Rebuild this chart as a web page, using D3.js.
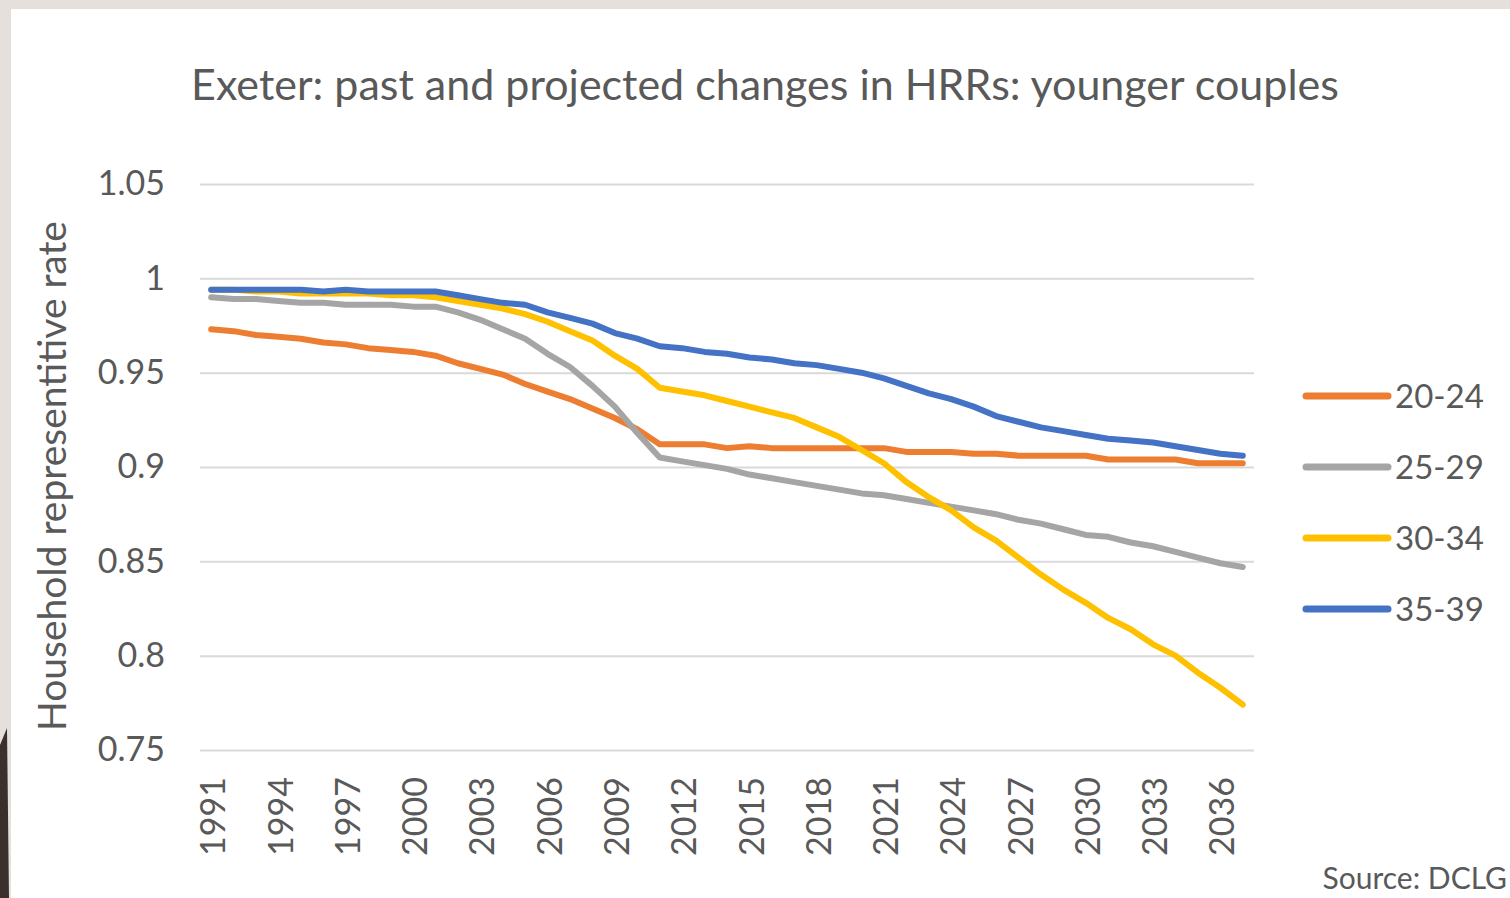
<!DOCTYPE html>
<html>
<head>
    <meta charset='utf-8'>
    <title>Exeter HRRs: younger couples</title>
    <script src="https://cdn.jsdelivr.net/npm/d3@7"></script>
    <style>
        body { margin: 0; background: #e6e0dd; }
        svg { display: block; }
        text { font-family: Lato, "Open Sans", sans-serif; fill: #595959; }
        .grid line { stroke: #d9d9d9; stroke-width: 2; }
        .series { fill: none; stroke-width: 6; stroke-linejoin: round; stroke-linecap: round; }
    </style>
</head>
<body>
<svg width="1510" height="898"></svg>

<script>
    const YEARS = d3.range(1991, 2038);

    const SERIES_NAMES = ['20-24', '25-29', '30-34', '35-39'];
    const COLORS = ['#ED7D31', '#A5A5A5', '#FFC000', '#4472C4'];

    const AGE_20_24 = [
        0.973, 0.972, 0.970, 0.969, 0.968, 0.966, 0.965, 0.963, 0.962, 0.961,
        0.959, 0.955, 0.952, 0.949, 0.944, 0.940, 0.936, 0.931, 0.926, 0.920,
        0.912, 0.912, 0.912, 0.910, 0.911, 0.910, 0.910, 0.910, 0.910, 0.910,
        0.910, 0.908, 0.908, 0.908, 0.907, 0.907, 0.906, 0.906, 0.906, 0.906,
        0.904, 0.904, 0.904, 0.904, 0.902, 0.902, 0.902
    ];
    const AGE_25_29 = [
        0.990, 0.989, 0.989, 0.988, 0.987, 0.987, 0.986, 0.986, 0.986, 0.985,
        0.985, 0.982, 0.978, 0.973, 0.968, 0.960, 0.953, 0.943, 0.932, 0.918,
        0.905, 0.903, 0.901, 0.899, 0.896, 0.894, 0.892, 0.890, 0.888, 0.886,
        0.885, 0.883, 0.881, 0.879, 0.877, 0.875, 0.872, 0.870, 0.867, 0.864,
        0.863, 0.860, 0.858, 0.855, 0.852, 0.849, 0.847
    ];
    const AGE_30_34 = [
        0.994, 0.994, 0.993, 0.993, 0.992, 0.992, 0.992, 0.992, 0.991, 0.991,
        0.990, 0.988, 0.986, 0.984, 0.981, 0.977, 0.972, 0.967, 0.959, 0.952,
        0.942, 0.940, 0.938, 0.935, 0.932, 0.929, 0.926, 0.921, 0.916, 0.909,
        0.902, 0.892, 0.884, 0.877, 0.868, 0.861, 0.852, 0.843, 0.835, 0.828,
        0.820, 0.814, 0.806, 0.800, 0.791, 0.783, 0.774
    ];
    const AGE_35_39 = [
        0.994, 0.994, 0.994, 0.994, 0.994, 0.993, 0.994, 0.993, 0.993, 0.993,
        0.993, 0.991, 0.989, 0.987, 0.986, 0.982, 0.979, 0.976, 0.971, 0.968,
        0.964, 0.963, 0.961, 0.960, 0.958, 0.957, 0.955, 0.954, 0.952, 0.950,
        0.947, 0.943, 0.939, 0.936, 0.932, 0.927, 0.924, 0.921, 0.919, 0.917,
        0.915, 0.914, 0.913, 0.911, 0.909, 0.907, 0.906
    ];
    const SERIES_VALUES = [AGE_20_24, AGE_25_29, AGE_30_34, AGE_35_39];

    const Y_TICKS = [0.75, 0.8, 0.85, 0.9, 0.95, 1, 1.05];
    const X_TICKS = YEARS.filter(y => (y - 1991) % 3 === 0);

    const svg = d3.select('svg');

    // slide frame + white card
    svg.append('rect').attr('x', 0).attr('y', 0).attr('width', 1510).attr('height', 898).attr('fill', '#e6e0dd');
    svg.append('path').attr('d', 'M0,745 L7,728 L9,898 L0,898 Z').attr('fill', '#3b312c');
    svg.append('rect').attr('x', 11).attr('y', 9).attr('width', 1499).attr('height', 889).attr('fill', '#ffffff');

    const plotLeft = 200, plotRight = 1254, plotTop = 184, plotBottom = 750;

    const xScale = d3.scalePoint().domain(YEARS).range([plotLeft, plotRight]).padding(0.5);
    const yScale = d3.scaleLinear().domain([0.75, 1.05]).range([plotBottom, plotTop]);

    // gridlines + y labels
    const yAxis = d3.axisLeft(yScale)
        .tickValues(Y_TICKS)
        .tickSize(-(plotRight - plotLeft))
        .tickPadding(35)
        .tickFormat(d3.format('~g'));

    svg.append('g')
        .attr('class', 'grid')
        .attr('transform', `translate(${plotLeft},0)`)
        .call(yAxis)
        .call(g => g.select('.domain').remove())
        .call(g => g.selectAll('text').attr('font-size', 34).attr('fill', '#595959'));

    // x labels, rotated
    const xAxis = d3.axisBottom(xScale).tickValues(X_TICKS).tickSize(0);
    svg.append('g')
        .attr('transform', `translate(0,${plotBottom})`)
        .call(xAxis)
        .call(g => g.select('.domain').remove())
        .call(g => g.selectAll('text')
            .attr('font-size', 34)
            .attr('fill', '#595959')
            .attr('text-anchor', 'end')
            .attr('transform', 'rotate(-90)')
            .attr('x', -27)
            .attr('y', 0)
            .attr('dy', '0.4em'));

    // lines
    const line = d3.line()
        .x((d, i) => xScale(YEARS[i]))
        .y(d => yScale(d));

    svg.selectAll('.series')
        .data(SERIES_VALUES)
        .enter()
        .append('path')
        .classed('series', true)
        .attr('stroke', (d, i) => COLORS[i])
        .attr('d', line);

    // title
    svg.append('text')
        .attr('x', 765).attr('y', 100)
        .attr('text-anchor', 'middle')
        .attr('font-size', 43)
        .text('Exeter: past and projected changes in HRRs: younger couples');

    // y axis title
    svg.append('text')
        .attr('transform', 'translate(66,476) rotate(-90)')
        .attr('text-anchor', 'middle')
        .attr('font-size', 39)
        .text('Household representitive rate');

    // legend
    const legend = svg.append('g').attr('transform', 'translate(1306,396)');
    const item = legend.selectAll('g')
        .data(SERIES_NAMES)
        .enter()
        .append('g')
        .attr('transform', (d, i) => `translate(0,${i * 71})`);
    item.append('line')
        .attr('x1', 0).attr('x2', 82)
        .attr('stroke', (d, i) => COLORS[i])
        .attr('stroke-width', 7)
        .attr('stroke-linecap', 'round');
    item.append('text')
        .attr('x', 89).attr('dy', '0.36em')
        .attr('font-size', 33)
        .text(d => d);

    // source
    svg.append('text')
        .attr('x', 1507).attr('y', 889)
        .attr('text-anchor', 'end')
        .attr('font-size', 30)
        .text('Source: DCLG');
</script>
</body>
</html>
